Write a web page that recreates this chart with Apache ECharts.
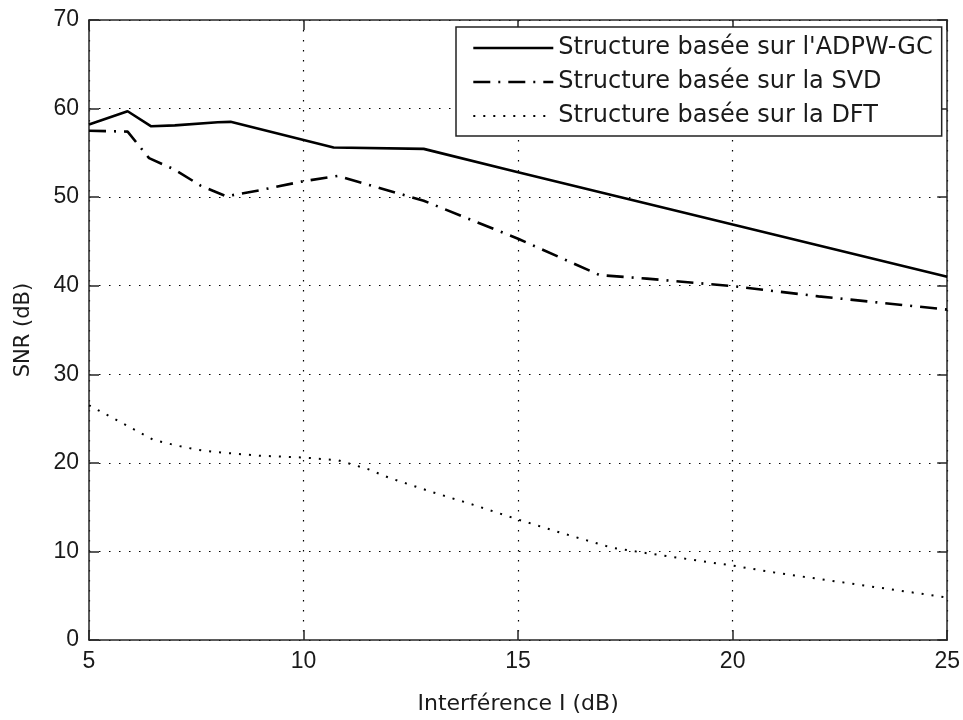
<!DOCTYPE html>
<html>
<head>
<meta charset="utf-8">
<script src="https://cdn.jsdelivr.net/npm/echarts@6/dist/echarts.min.js"></script>
<style>
html,body{margin:0;padding:0;background:#fff;}
#chart{width:963px;height:720px;}
</style>
</head>
<body>
<div id="chart"></div>
<script>
// ---- data ----
const seriesNames = ["Structure basée sur l'ADPW-GC", "Structure basée sur la SVD", "Structure basée sur la DFT"];
const adpwX = [5, 5.9, 6.45, 7, 8, 8.3, 10.7, 12.8, 15, 20, 25];
const adpwY = [58.2, 59.7, 58.0, 58.1, 58.45, 58.5, 55.6, 55.45, 52.8, 46.9, 41.0];
const svdX = [5, 5.9, 6.4, 7, 7.6, 8.2, 9, 10, 10.8, 12.8, 15, 16.9, 18, 20, 22, 25];
const svdY = [57.5, 57.4, 54.4, 53.1, 51.3, 50.1, 50.8, 51.8, 52.4, 49.6, 45.3, 41.2, 40.8, 39.95, 38.8, 37.3];
const dftX = [5, 5.5, 6, 6.5, 7, 7.5, 8, 9, 10, 10.8, 11.5, 12, 13, 14, 15, 16, 17.2, 18, 19, 20, 21, 22, 23, 24, 25];
const dftY = [26.5, 25.2, 23.9, 22.6, 22.0, 21.5, 21.2, 20.8, 20.6, 20.3, 19.3, 18.3, 16.7, 15.2, 13.6, 12.1, 10.4, 9.8, 9.1, 8.4, 7.6, 6.9, 6.2, 5.5, 4.8];
const xTicks = [5, 10, 15, 20, 25];
const yTicks = [0, 10, 20, 30, 40, 50, 60, 70];
const xName = "Interférence I (dB)";
const yName = "SNR (dB)";

function pairs(xs, ys){ return xs.map((x,i)=>[x, ys[i]]); }

const FONT = "'Liberation Sans', Arial, sans-serif";
const WFONT = "'DejaVu Sans', 'Liberation Sans', sans-serif";
const TXT = '#1a1a1a';
const AX = '#262626';

const chart = echarts.init(document.getElementById('chart'), null, {renderer:'canvas'});
const gridLine = {show:true, lineStyle:{color:'#000', width:1.2, type:[1.5, 8.5]}};
const lineStyles = [
  {color:'#000', width:2.6, type:'solid'},
  {color:'#000', width:2.6, type:[17, 8, 2, 8]},
  {color:'#000', width:2, type:[2, 8]}
];
const option = {
  animation:false,
  backgroundColor:'#ffffff',
  textStyle:{fontFamily:FONT},
  grid:{left:89, right:15, top:20, bottom:64, containLabel:false},
  legend:{
    orient:'vertical',
    left:456, top:27,
    padding:[9, 9, 8, 16],
    itemGap:10,
    itemWidth:80, itemHeight:14,
    backgroundColor:'#fff',
    borderColor:'#222', borderWidth:1.5, borderRadius:0,
    textStyle:{fontFamily:WFONT, fontSize:24, color:TXT},
    data:seriesNames.map((n,i)=>({name:n, itemStyle:{opacity:0}, lineStyle:lineStyles[i]}))
  },
  xAxis:[{
    type:'value', min:xTicks[0], max:xTicks[xTicks.length-1], interval:5,
    name:xName, nameLocation:'middle', nameGap:53,
    nameTextStyle:{fontFamily:WFONT, fontSize:22, color:TXT},
    axisLine:{show:true, onZero:false, lineStyle:{color:AX, width:1.5}},
    axisTick:{show:true, inside:true, length:10, lineStyle:{color:AX, width:1.5}},
    axisLabel:{fontFamily:FONT, fontSize:23, color:TXT, margin:10},
    splitLine:gridLine
  },{
    type:'value', position:'top', min:xTicks[0], max:xTicks[xTicks.length-1], interval:5,
    axisLine:{show:true, onZero:false, lineStyle:{color:AX, width:1.5}},
    axisTick:{show:true, inside:true, length:10, lineStyle:{color:AX, width:1.5}},
    axisLabel:{show:false}, splitLine:{show:false}
  }],
  yAxis:[{
    type:'value', min:yTicks[0], max:yTicks[yTicks.length-1], interval:10,
    name:yName, nameLocation:'middle', nameGap:55, nameRotate:90,
    nameTextStyle:{fontFamily:WFONT, fontSize:21, color:TXT},
    axisLine:{show:true, onZero:false, lineStyle:{color:AX, width:1.5}},
    axisTick:{show:true, inside:true, length:10, lineStyle:{color:AX, width:1.5}},
    axisLabel:{fontFamily:FONT, fontSize:23, color:TXT, margin:10},
    splitLine:gridLine
  },{
    type:'value', position:'right', min:yTicks[0], max:yTicks[yTicks.length-1], interval:10,
    axisLine:{show:true, onZero:false, lineStyle:{color:AX, width:1.5}},
    axisTick:{show:true, inside:true, length:10, lineStyle:{color:AX, width:1.5}},
    axisLabel:{show:false}, splitLine:{show:false}
  }],
  series:[
    {name:seriesNames[0], type:'line', data:pairs(adpwX, adpwY), symbol:'none',
     lineStyle:lineStyles[0], itemStyle:{color:'#000'}},
    {name:seriesNames[1], type:'line', data:pairs(svdX, svdY), symbol:'none',
     lineStyle:lineStyles[1], itemStyle:{color:'#000'}},
    {name:seriesNames[2], type:'line', data:pairs(dftX, dftY), symbol:'none',
     lineStyle:lineStyles[2], itemStyle:{color:'#000'}}
  ]
};
chart.setOption(option);
</script>
</body>
</html>
